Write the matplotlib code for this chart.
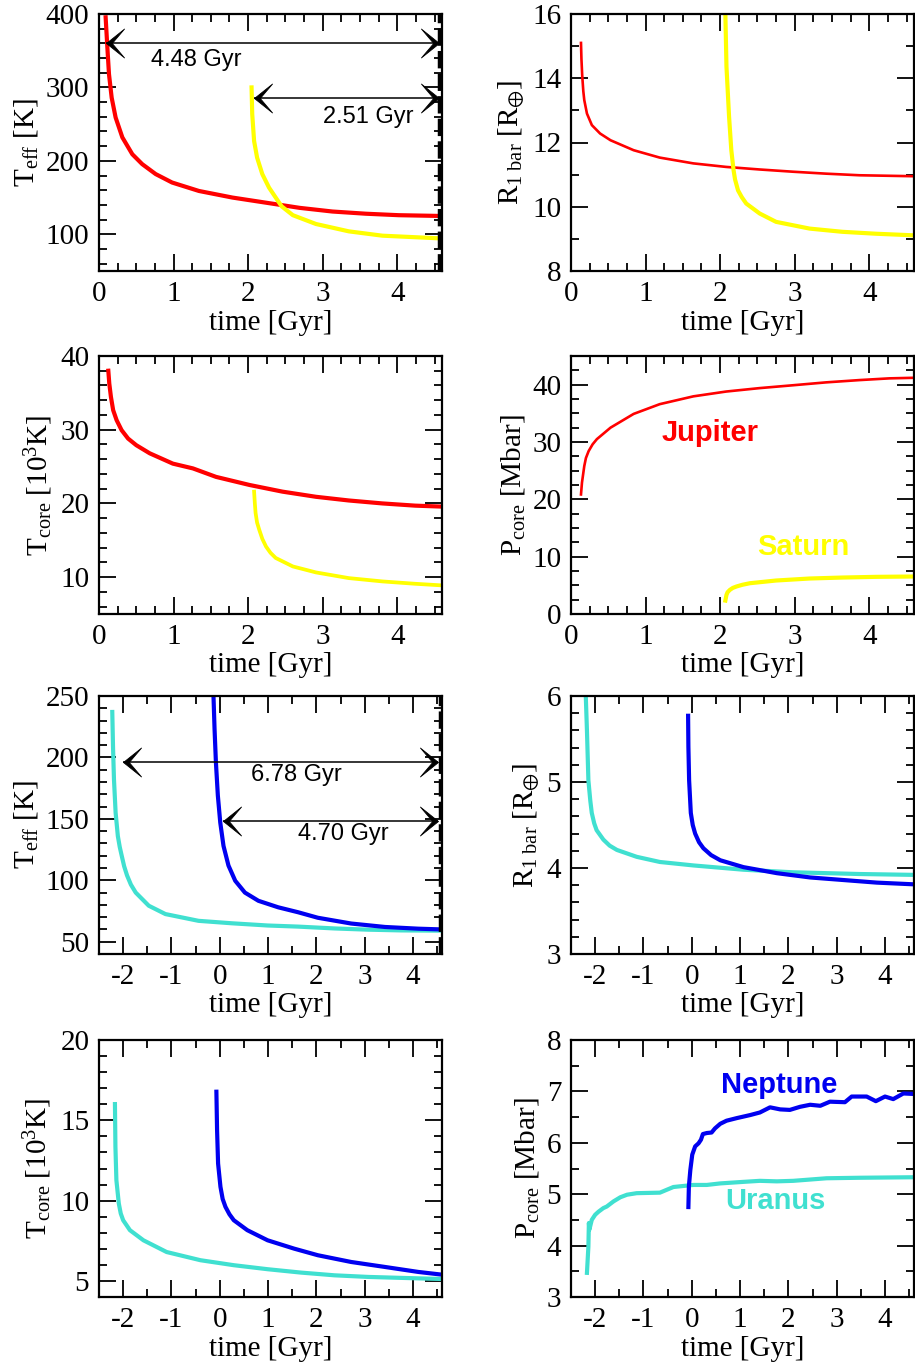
import matplotlib
matplotlib.use("Agg")
import matplotlib.pyplot as plt
from matplotlib.ticker import MultipleLocator
from matplotlib.path import Path

plt.rcParams.update({
    "font.family": ["Liberation Serif", "DejaVu Serif"],
    "mathtext.fontset": "custom",
    "mathtext.rm": "Liberation Serif",
    "mathtext.it": "Liberation Serif:italic",
    "mathtext.fallback": "stix",
    "axes.unicode_minus": False,
})

RED, YELLOW, TURQ, BLUE = "#ff0000", "#ffff00", "#40e0d0", "#0000f0"
SANS = ["Liberation Sans", "DejaVu Sans"]

# ---- Jupiter / Saturn ----
jup_teff_t = [0.089, 0.112, 0.134, 0.17, 0.223, 0.313, 0.447, 0.58, 0.76, 0.98, 1.34, 1.79, 2.37, 2.69, 3.13, 3.58, 4.02, 4.56]
jup_teff = [395.5, 354.5, 318, 286, 259, 232, 209, 195.5, 182, 170.5, 159, 150, 141, 136, 131, 128, 126, 125]
sat_teff_t = [2.046, 2.055, 2.08, 2.12, 2.19, 2.28, 2.37, 2.45, 2.6, 2.91, 3.35, 3.8, 4.56]
sat_teff = [300, 263.6, 227, 204.5, 182, 163.6, 150, 138, 126, 114, 104, 98.1, 94.5]

jup_r_t = [0.134, 0.14, 0.15, 0.165, 0.178, 0.214, 0.28, 0.39, 0.53, 0.84, 1.19, 1.64, 2.08, 2.53, 2.98, 3.42, 3.87, 4.6]
jup_r = [15.1, 14.6, 14.1, 13.6, 13.32, 12.9, 12.54, 12.28, 12.07, 11.76, 11.53, 11.35, 11.24, 11.16, 11.09, 11.03, 10.98, 10.95]
sat_r_t = [2.065, 2.085, 2.12, 2.15, 2.18, 2.2, 2.24, 2.29, 2.35, 2.53, 2.75, 3.2, 3.64, 4.09, 4.6]
sat_r = [16.6, 14.36, 12.8, 11.76, 11.14, 10.85, 10.51, 10.3, 10.1, 9.79, 9.53, 9.32, 9.22, 9.16, 9.11]

jup_tc_t = [0.125, 0.138, 0.16, 0.19, 0.236, 0.303, 0.39, 0.5, 0.68, 0.99, 1.26, 1.57, 2.02, 2.46, 2.91, 3.35, 3.8, 4.24, 4.6]
jup_tc = [38.0, 36.26, 34.45, 32.65, 31.3, 29.94, 28.8, 27.9, 26.8, 25.4, 24.75, 23.6, 22.5, 21.6, 20.9, 20.4, 20.0, 19.7, 19.57]
sat_tc_t = [2.08, 2.09, 2.1, 2.12, 2.15, 2.19, 2.24, 2.3, 2.37, 2.6, 2.91, 3.35, 3.8, 4.24, 4.6]
sat_tc = [21.6, 20.0, 18.7, 17.4, 16.4, 15.2, 14.15, 13.3, 12.6, 11.45, 10.64, 9.87, 9.42, 9.1, 8.88]

jup_pc_t = [0.134, 0.147, 0.178, 0.2, 0.236, 0.29, 0.347, 0.53, 0.84, 1.19, 1.64, 2.08, 2.53, 2.98, 3.42, 3.87, 4.27, 4.6]
jup_pc = [20.85, 22.9, 25.8, 27.2, 28.4, 29.6, 30.5, 32.5, 34.9, 36.6, 37.96, 38.8, 39.4, 39.9, 40.4, 40.8, 41.1, 41.2]
sat_pc_t = [2.07, 2.085, 2.1, 2.13, 2.17, 2.22, 2.3, 2.4, 2.75, 3.2, 3.64, 4.09, 4.6]
sat_pc = [2.34, 3.33, 3.8, 4.2, 4.55, 4.8, 5.1, 5.37, 5.84, 6.19, 6.36, 6.48, 6.54]

# ---- Uranus / Neptune ----
ura_teff_t = [-2.225, -2.21, -2.19, -2.156, -2.11, -2.07, -2.03, -1.98, -1.92, -1.84, -1.74, -1.47, -1.125, -0.44, 0.25, 0.99, 1.62, 2.375, 3.07, 3.76, 4.6]
ura_teff = [237, 209, 182, 155, 136, 127, 120, 111.5, 104, 96.5, 90, 79.3, 72.5, 67, 65, 63.2, 62.3, 60.8, 59.8, 59.2, 59]
nep_teff_t = [-0.14, -0.108, -0.08, -0.04, 0.01, 0.077, 0.18, 0.32, 0.52, 0.8, 1.21, 1.62, 2.03, 2.72, 3.42, 4.11, 4.6]
nep_teff = [262, 223, 196, 169, 147, 128, 112, 99.6, 90, 83.3, 78, 74, 69.5, 64.8, 62, 60.6, 60]

ura_r_t = [-2.2, -2.17, -2.14, -2.1, -2.07, -2.02, -1.97, -1.83, -1.7, -1.55, -1.14, -0.66, 0.03, 1.07, 2.1, 3.48, 4.6]
ura_r = [6.1, 5.6, 5.02, 4.78, 4.64, 4.52, 4.44, 4.33, 4.26, 4.21, 4.13, 4.07, 4.03, 3.98, 3.95, 3.93, 3.92]
nep_r_t = [-0.076, -0.07, -0.055, -0.02, 0.02, 0.07, 0.15, 0.24, 0.4, 0.59, 1.07, 1.76, 2.45, 3.14, 3.83, 4.6]
nep_r = [5.77, 5.41, 5.02, 4.64, 4.5, 4.4, 4.3, 4.23, 4.15, 4.09, 4.01, 3.94, 3.89, 3.86, 3.83, 3.81]

ura_tc_t = [-2.17, -2.16, -2.14, -2.09, -2.05, -2.0, -1.86, -1.58, -1.1, -0.4, 0.29, 0.99, 1.68, 2.375, 3.07, 3.76, 4.6]
ura_tc = [16.01, 13.35, 11.27, 9.82, 9.2, 8.78, 8.16, 7.53, 6.8, 6.29, 5.98, 5.73, 5.52, 5.35, 5.25, 5.19, 5.12]
nep_tc_t = [-0.07, -0.056, -0.035, 0.014, 0.06, 0.118, 0.2, 0.29, 0.57, 0.99, 1.54, 2.03, 2.72, 3.42, 4.11, 4.6]
nep_tc = [16.78, 14.39, 12.31, 10.86, 10.1, 9.61, 9.15, 8.78, 8.16, 7.53, 7.01, 6.6, 6.18, 5.87, 5.56, 5.39]

ura_pc_t = [-2.17, -2.14, -2.13, -2.12, -2.07, -2.0, -1.93, -1.83, -1.76, -1.62, -1.48, -1.34, -1.14, -0.66, -0.38, 0.03, 0.31, 0.59, 1.07, 1.41, 1.76, 2.1, 2.79, 3.48, 4.6]
ura_pc = [3.47, 3.98, 4.44, 4.31, 4.5, 4.6, 4.66, 4.73, 4.76, 4.86, 4.94, 4.99, 5.02, 5.03, 5.14, 5.18, 5.18, 5.21, 5.24, 5.26, 5.25, 5.26, 5.31, 5.32, 5.33]
nep_pc_t = [-0.07, -0.06, -0.03, 0.01, 0.07, 0.14, 0.19, 0.23, 0.31, 0.41, 0.48, 0.59, 0.72, 0.93, 1.21, 1.41, 1.62, 1.83, 2.03, 2.24, 2.45, 2.66, 2.86, 3.17, 3.31, 3.62, 3.81, 4.0, 4.17, 4.38, 4.6]
nep_pc = [4.75, 5.15, 5.47, 5.77, 5.93, 5.99, 6.06, 6.17, 6.19, 6.2, 6.28, 6.37, 6.43, 6.48, 6.54, 6.59, 6.69, 6.65, 6.64, 6.7, 6.74, 6.72, 6.8, 6.79, 6.9, 6.9, 6.81, 6.9, 6.85, 6.96, 6.95]

# age spans marked by arrows
present_day = 4.56
jup_age, sat_age = 4.48, 2.51
ura_age, nep_age = 6.78, 4.70

lbl_teff = r"$\mathrm{T_{eff}\ [K]}$"
lbl_r = r"$\mathrm{R_{1\ bar}\ [R_{\oplus}]}$"
lbl_tc = r"$\mathrm{T_{core}\ [10^{3}K]}$"
lbl_pc = r"$\mathrm{P_{core}\ [Mbar]}$"
lbl_time = "time [Gyr]"

W, H = 915, 1367
fig = plt.figure(figsize=(W / 100, H / 100), dpi=100)

cols = [(99, 442), (571, 914)]
rows = [(14, 271), (356, 614), (696, 954), (1040, 1297)]

# barbed arrowhead shapes, tip at the origin
_head_v = [(0, 0), (1, 0.8), (0.32, 0), (1, -0.8), (0, 0)]
_head_c = [Path.MOVETO, Path.LINETO, Path.LINETO, Path.LINETO, Path.CLOSEPOLY]
HEAD_LEFT = Path(_head_v, _head_c)
HEAD_RIGHT = Path([(-x, y) for x, y in _head_v], _head_c)


def make_ax(r, c):
    x0, x1 = cols[c]
    y0, y1 = rows[r]
    ax = fig.add_axes([x0 / W, 1 - y1 / H, (x1 - x0) / W, (y1 - y0) / H])
    for s in ax.spines.values():
        s.set_linewidth(1.6)
    ax.tick_params(which="both", direction="in", top=True, right=True, width=1.3,
                   labelsize=21, pad=7)
    ax.tick_params(which="major", length=12)
    ax.tick_params(which="minor", length=6)
    ax.set_xlabel(lbl_time, fontsize=21, labelpad=2)
    return ax


def style(ax, xlim, ylim, xmaj, xmin, ymaj, ymin, ylabel):
    ax.set_xlim(*xlim)
    ax.set_ylim(*ylim)
    ax.xaxis.set_major_locator(MultipleLocator(xmaj))
    ax.xaxis.set_minor_locator(MultipleLocator(xmin))
    ax.yaxis.set_major_locator(MultipleLocator(ymaj))
    ax.yaxis.set_minor_locator(MultipleLocator(ymin))
    ax.set_ylabel(ylabel, fontsize=21, labelpad=4)


def span_arrow(ax, x0, x1, y, text, tx, ty):
    ax.plot([x0, x1], [y, y], color="k", lw=1.1, solid_capstyle="butt", zorder=4)
    ax.plot([x0], [y], marker=HEAD_LEFT, ms=26, color="k", mew=0.6, zorder=4)
    ax.plot([x1], [y], marker=HEAD_RIGHT, ms=26, color="k", mew=0.6, zorder=4)
    ax.text(tx, ty, text, ha="center", va="center", fontsize=17, family=SANS)


# Row 1: Teff and radius, Jupiter & Saturn
ax = make_ax(0, 0)
ax.plot(jup_teff_t, jup_teff, color=RED, lw=3)
ax.plot(sat_teff_t, sat_teff, color=YELLOW, lw=3)
ax.axvline(present_day, color="k", lw=2.5, dashes=(5, 1.5))
span_arrow(ax, present_day - jup_age + 0.02, present_day, 361, f"{jup_age:.2f} Gyr", 1.31, 337)
span_arrow(ax, present_day - sat_age + 0.03, present_day, 285, f"{sat_age:.2f} Gyr", 3.61, 260)
style(ax, (0, 4.6), (50, 400), 1, 0.25, 100, 20, lbl_teff)

ax = make_ax(0, 1)
ax.plot(jup_r_t, jup_r, color=RED, lw=1.9)
ax.plot(sat_r_t, sat_r, color=YELLOW, lw=3)
style(ax, (0, 4.6), (8, 16), 1, 0.25, 2, 1, lbl_r)

# Row 2: core temperature and pressure, Jupiter & Saturn
ax = make_ax(1, 0)
ax.plot(jup_tc_t, jup_tc, color=RED, lw=3)
ax.plot(sat_tc_t, sat_tc, color=YELLOW, lw=2.7)
style(ax, (0, 4.6), (5, 40), 1, 0.25, 10, 2, lbl_tc)

ax = make_ax(1, 1)
ax.plot(jup_pc_t, jup_pc, color=RED, lw=1.9)
ax.plot(sat_pc_t, sat_pc, color=YELLOW, lw=3)
ax.text(1.86, 31.6, "Jupiter", color=RED, fontsize=21, fontweight="bold",
        family=SANS, ha="center", va="center")
ax.text(3.12, 11.7, "Saturn", color=YELLOW, fontsize=21, fontweight="bold",
        family=SANS, ha="center", va="center")
style(ax, (0, 4.6), (0, 45), 1, 0.25, 10, 2.5, lbl_pc)

# Row 3: Teff and radius, Uranus & Neptune
ax = make_ax(2, 0)
ax.plot(ura_teff_t, ura_teff, color=TURQ, lw=3)
ax.plot(nep_teff_t, nep_teff, color=BLUE, lw=3)
ax.axvline(present_day, color="k", lw=2.5, dashes=(5, 1.5))
span_arrow(ax, -2.0, 4.52, 196.5, f"{ura_age:.2f} Gyr", 1.58, 185.7)
span_arrow(ax, 0.06, 4.52, 148.5, f"{nep_age:.2f} Gyr", 2.55, 137.6)
style(ax, (-2.5, 4.6), (40, 250), 1, 0.5, 50, 10, lbl_teff)

ax = make_ax(2, 1)
ax.plot(ura_r_t, ura_r, color=TURQ, lw=3)
ax.plot(nep_r_t, nep_r, color=BLUE, lw=3)
style(ax, (-2.5, 4.6), (3, 6), 1, 0.5, 1, 0.2, lbl_r)

# Row 4: core temperature and pressure, Uranus & Neptune
ax = make_ax(3, 0)
ax.plot(ura_tc_t, ura_tc, color=TURQ, lw=3)
ax.plot(nep_tc_t, nep_tc, color=BLUE, lw=3)
style(ax, (-2.5, 4.6), (4, 20), 1, 0.5, 5, 1, lbl_tc)

ax = make_ax(3, 1)
ax.plot(ura_pc_t, ura_pc, color=TURQ, lw=3)
ax.plot(nep_pc_t, nep_pc, color=BLUE, lw=3)
ax.text(1.81, 7.13, "Neptune", color=BLUE, fontsize=21, fontweight="bold",
        family=SANS, ha="center", va="center")
ax.text(1.74, 4.86, "Uranus", color=TURQ, fontsize=21, fontweight="bold",
        family=SANS, ha="center", va="center")
style(ax, (-2.5, 4.6), (3, 8), 1, 0.5, 1, 0.5, lbl_pc)

fig.savefig("out.png", dpi=100)
